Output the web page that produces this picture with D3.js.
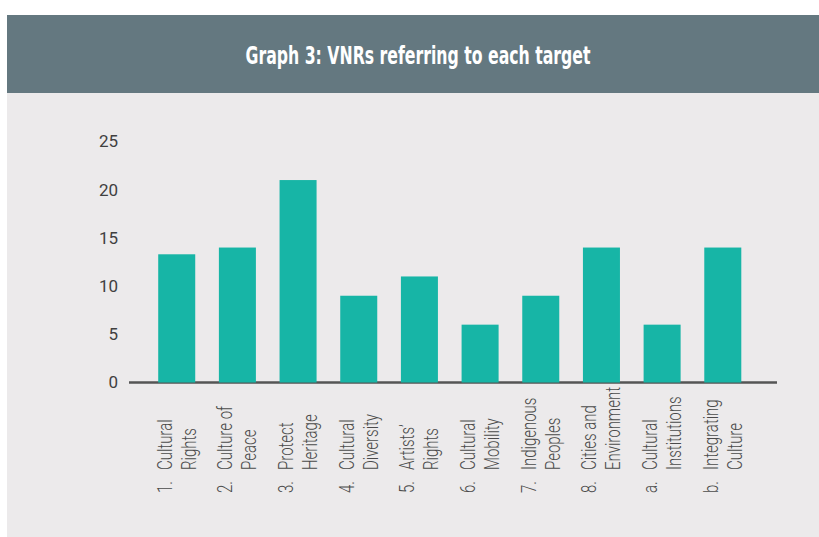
<!DOCTYPE html>
<html>
<head>
<meta charset="utf-8">
<script src="https://cdn.jsdelivr.net/npm/d3@7"></script>
<style>
  body { margin: 0; background: #fff; }
  .title { font-family: 'Liberation Sans Narrow', 'DejaVu Sans Condensed', sans-serif; font-weight: bold; fill: #fff; }
  .ytick text { font-family: Roboto, sans-serif; font-size: 17px; fill: #404040; }
  .xlab { font-family: Roboto, sans-serif; font-weight: 300; font-size: 21px; fill: #4a4a4a; }
</style>
</head>
<body>
<div id="chart"></div>
<script>
const numbers = ['1.', '2.', '3.', '4.', '5.', '6.', '7.', '8.', 'a.', 'b.'];
const firstLines = ['Cultural', 'Culture of', 'Protect', 'Cultural', 'Artists’', 'Cultural', 'Indigenous', 'Cities and', 'Cultural', 'Integrating'];
const secondLines = ['Rights', 'Peace', 'Heritage', 'Diversity', 'Rights', 'Mobility', 'Peoples', 'Environment', 'Institutions', 'Culture'];
const values = [13.3, 14, 21, 9, 11, 6, 9, 14, 6, 14];
const yTicks = [0, 5, 10, 15, 20, 25];
const title = 'Graph 3: VNRs referring to each target';

const width = 819;
const height = 537;

const svg = d3.select('#chart').append('svg')
  .attr('width', width)
  .attr('height', height);

// panel + header band
svg.append('rect')
  .attr('x', 7).attr('y', 93)
  .attr('width', width - 7).attr('height', height - 93)
  .attr('fill', '#ECEAEB');

svg.append('rect')
  .attr('x', 7).attr('y', 15)
  .attr('width', width - 7).attr('height', 78)
  .attr('fill', '#647880');

svg.append('text')
  .attr('class', 'title')
  .attr('x', 418)
  .attr('y', 64)
  .attr('text-anchor', 'middle')
  .attr('font-size', 24)
  .attr('textLength', 345)
  .attr('lengthAdjust', 'spacingAndGlyphs')
  .text(title);

const xScale = d3.scaleBand()
  .domain(numbers)
  .range([129, 777])
  .paddingInner(0.39)
  .paddingOuter(0.535)
  .align(0.45);

const yScale = d3.scaleLinear()
  .domain([0, 25])
  .range([382.5, 141.5]);

// y axis labels only
const yAxis = d3.axisLeft(yScale)
  .tickValues(yTicks)
  .tickSize(0)
  .tickPadding(0);

svg.append('g')
  .attr('class', 'ytick')
  .attr('transform', 'translate(118,0)')
  .call(yAxis)
  .call(g => g.select('.domain').remove());

// baseline
svg.append('line')
  .attr('x1', 129)
  .attr('x2', 777)
  .attr('y1', yScale(0))
  .attr('y2', yScale(0))
  .attr('stroke', '#555')
  .attr('stroke-width', 2.5);

svg.selectAll('.bar')
  .data(values)
  .enter()
  .append('rect')
  .attr('class', 'bar')
  .attr('x', (d, i) => xScale(numbers[i]))
  .attr('y', d => yScale(d))
  .attr('width', xScale.bandwidth())
  .attr('height', d => yScale(0) - yScale(d))
  .attr('fill', '#17B5A6');

// condensed look: squeeze along text direction so "Environment" is ~83px
const probe = svg.append('text').attr('class', 'xlab').text('Environment');
const squeeze = 83 / probe.node().getComputedTextLength();
probe.remove();

const cx = d => xScale(d) + xScale.bandwidth() / 2;

const labels = svg.selectAll('.xlab-g')
  .data(numbers)
  .enter()
  .append('g')
  .attr('class', 'xlab-g');

labels.append('text')
  .attr('class', 'xlab')
  .attr('transform', d => `translate(${cx(d) - 5},493) rotate(-90) scale(${squeeze},1)`)
  .text(d => d);

labels.append('text')
  .attr('class', 'xlab')
  .attr('transform', d => `translate(${cx(d) - 5},470) rotate(-90) scale(${squeeze},1)`)
  .text((d, i) => firstLines[i]);

labels.append('text')
  .attr('class', 'xlab')
  .attr('transform', d => `translate(${cx(d) + 19},470) rotate(-90) scale(${squeeze},1)`)
  .text((d, i) => secondLines[i]);
</script>
</body>
</html>
